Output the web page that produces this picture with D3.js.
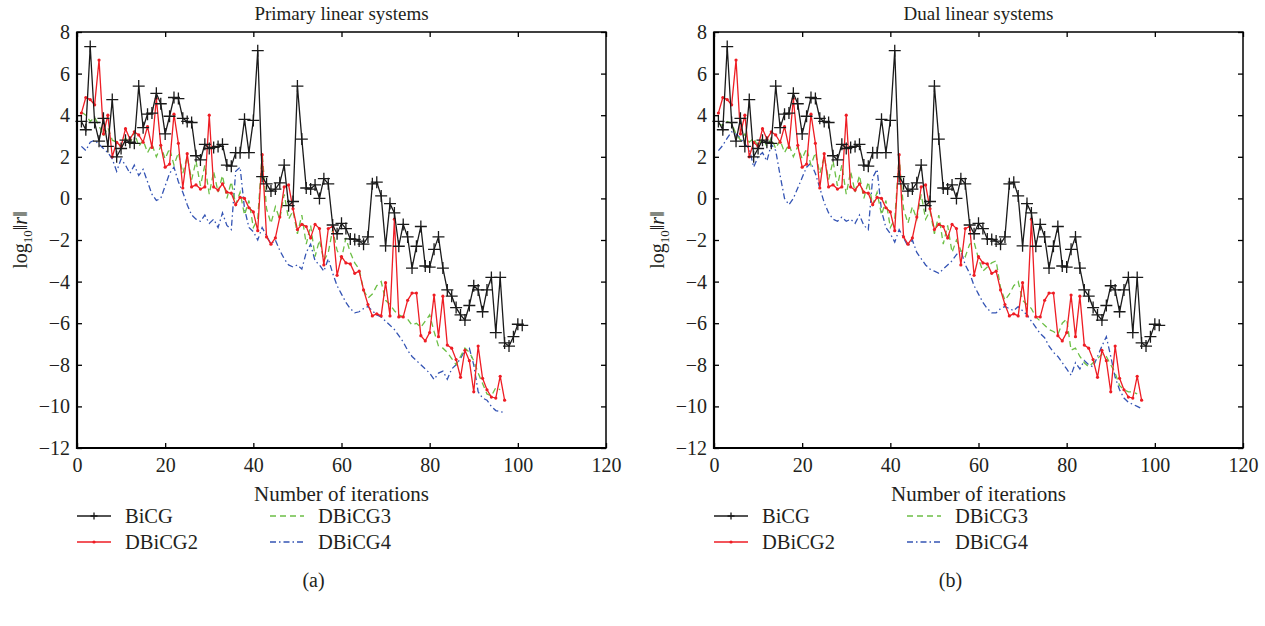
<!DOCTYPE html>
<html>
<head>
<meta charset="utf-8">
<script src="https://cdn.jsdelivr.net/npm/d3@7"></script>
<style>
  body { margin: 0; background: #fff; }
  svg text { font-family: "Liberation Serif", "Times New Roman", serif; fill: #231f20; }
</style>
</head>
<body>
<svg id="chart" width="1265" height="626"></svg>
<script>
// log10 ||r|| per iteration (first value = iteration 1)
var bicg = [3.7, 3.3, 7.3, 3.65, 2.75, 3.85, 2.5, 4.75, 2.0, 2.4,
  2.8, 2.7, 2.65, 5.4, 3.4, 4.05, 4.1, 5.05, 4.55, 3.1,
  3.95, 4.85, 4.8, 3.85, 3.7, 3.65, 2.05, 1.85, 2.6, 2.4,
  2.45, 2.5, 2.6, 1.6, 1.55, 2.2, 2.2, 3.8, 2.2, 3.75,
  7.1, 1.05, 0.7, 0.35, 0.45, 0.75, 1.6, -0.35, -0.15, 5.4,
  2.85, 0.5, 0.45, 0.65, 0.0, 0.95, 0.7, -1.28, -1.7, -1.2,
  -1.45, -1.95, -1.97, -2.05, -2.2, -1.85, 0.7, 0.78, 0.12, -2.28,
  -0.25, -0.7, -2.3, -1.25, -1.85, -3.35, -2.3, -1.35, -3.25, -3.3,
  -2.45, -1.85, -3.35, -4.4, -4.7, -5.25, -5.6, -5.85, -5.15, -4.2,
  -4.4, -5.45, -4.4, -3.8, -6.45, -3.8, -6.95, -7.1, -6.65, -6.05,
  -6.1];

var dbicg2 = [4.1, 4.85, 4.75, 4.5, 6.65, 3.1, 4.0, 2.0, 2.7, 2.5,
  3.35, 2.85, 3.2, 3.05, 2.7, 3.45, 2.45, 4.8, 2.55, 1.5,
  1.65, 4.05, 2.65, 0.5, 2.15, 0.55, 0.65, 0.45, 0.55, 4.0,
  0.55, 0.4, 0.7, 0.3, 0.25, -0.3, 0.05, 0.0, -0.45, -0.65,
  -1.55, 2.1, -1.85, -2.2, -1.9, -0.9, 0.55, 0.65, -0.5, -1.5,
  -1.25, -1.35, -1.9, -1.25, -1.45, -3.2, -1.45, -1.35, -3.7, -2.8,
  -3.1, -3.15, -3.6, -3.5, -4.4, -5.1, -5.65, -5.55, -5.65, -4.05,
  -5.65, -1.0, -5.7, -5.7, -4.9, -4.55, -4.55, -6.6, -6.85, -6.45,
  -4.65, -6.65, -4.7, -7.05, -7.2, -7.75, -8.6, -7.3, -7.8, -9.3,
  -7.1, -8.65, -9.2, -9.55, -9.6, -8.55, -9.7];

var dbicg3Primary = [4.15, 4.0, 3.7, 3.9, 3.5, 3.0, 3.4, 2.8, 2.7, 2.5,
  2.9, 2.6, 3.2, 2.5, 2.8, 2.2, 2.6, 2.0, 2.5, 1.9,
  2.4, 1.6, 2.2, 1.2, 2.0, 0.9, 1.8, 0.6, 1.6, 0.2,
  1.3, 0.3, 1.1, 0.0, 0.8, -0.3, 0.3, -0.8, -0.1, -1.4,
  -1.0, 2.2, -0.5, -1.2, -0.4, -1.0, 0.2, -1.0, -0.6, -1.7,
  -0.8, -2.2, -1.3, -2.8, -2.0, -3.0, -2.6, -1.5, -2.5, -2.9,
  -1.9, -2.6, -3.1, -3.4, -4.4, -4.8, -4.6, -4.2, -4.0, -4.9,
  -5.1, -5.4, -5.6, -5.7, -5.8, -6.1, -6.0, -6.2, -5.9, -5.6,
  -6.4, -7.1, -7.2, -7.4, -7.7, -8.0, -7.6, -7.2, -7.4, -7.8,
  -8.4, -8.9, -9.4, -9.5, -9.1, -9.2];

var dbicg4Primary = [2.5, 2.3, 2.7, 2.8, 2.6, 2.4, 2.2, 1.9, 1.3, 1.9,
  1.6, 1.2, 1.6, 1.1, 1.4, 0.8, 0.2, -0.1, 0.0, 0.6,
  1.2, 1.5, 0.8, 0.3, -0.3, -0.8, -1.0, -1.1, -0.8, -1.2,
  -1.0, -1.4, -0.7, -1.3, -1.5, 1.3, 1.5, -0.5, -1.4, -1.6,
  -2.0, -1.4, -1.8, -2.2, -2.0, -2.5, -2.9, -3.2, -3.3, -3.2,
  -3.4, -2.6, -2.2, -3.0, -3.2, -3.5, -2.9, -3.6, -4.2, -4.6,
  -5.0, -5.3, -5.5, -5.45, -5.3, -5.2, -5.4, -5.6, -5.7, -5.9,
  -6.1, -6.3, -6.6, -6.9, -7.3, -7.6, -7.8, -8.0, -8.2, -8.4,
  -8.7, -8.4, -8.3, -8.7, -8.2, -8.0, -7.7, -7.3, -7.2, -8.0,
  -9.3, -9.6, -9.7, -10.0, -10.2, -10.25, -10.3];

var dbicg3Dual = [3.6, 3.5, 3.7, 3.6, 3.1, 2.8, 3.1, 2.7, 2.9, 2.5,
  2.9, 2.5, 2.9, 2.4, 2.8, 2.2, 2.6, 2.0, 2.5, 1.9,
  2.4, 1.6, 2.2, 1.2, 2.0, 0.9, 1.8, 0.6, 1.6, 0.2,
  1.3, 0.3, 1.1, 0.0, 0.8, -0.3, 0.3, -0.8, -0.1, -1.4,
  -1.0, 2.0, -0.5, -1.2, -0.4, -1.0, 0.2, -1.0, -0.6, -1.7,
  -0.8, -2.2, -1.3, -2.6, -2.0, -2.5, -2.8, -2.2, -2.1, -2.9,
  -3.5, -3.3, -3.1, -3.0, -4.3, -4.9, -4.6, -4.2, -4.0, -4.9,
  -5.1, -5.3, -5.7, -5.9, -6.1, -6.3, -6.4, -6.55, -6.0, -5.8,
  -7.3, -7.2, -7.6, -7.9, -8.1, -7.9, -7.7, -7.5, -7.6, -8.0,
  -8.4, -9.0, -9.2, -9.3, -9.3, -9.4];

var dbicg4Dual = [2.3, 2.55, 2.9, 3.2, 3.1, 2.9, 2.6, 2.4, 1.5, 2.0,
  2.2, 1.8, 2.6, 2.3, 1.1, 0.0, -0.3, 0.0, 0.5, 1.0,
  1.5, 1.7, 1.2, 0.5, -0.2, -0.7, -1.0, -1.1, -0.9, -1.1,
  -1.0, -1.2, -0.8, -1.3, -1.5, 1.0, 1.4, -0.6, -1.4, -1.7,
  -2.1, -1.5, -1.9, -2.3, -2.0, -2.6, -2.9, -3.2, -3.4, -3.5,
  -3.6, -3.4, -3.2, -3.0, -2.7, -2.5, -3.2, -3.6, -4.2, -4.6,
  -5.0, -5.3, -5.5, -5.5, -5.3, -5.2, -5.3, -5.4, -5.2, -5.4,
  -5.6, -5.9, -6.2, -6.5, -6.7, -7.1, -7.4, -7.6, -7.9, -8.2,
  -8.5, -7.9, -8.2, -7.8, -8.0, -8.1, -7.6, -7.1, -6.65, -7.6,
  -8.6, -9.2, -9.6, -9.8, -9.9, -10.0, -10.1];

var xTicks = [0, 20, 40, 60, 80, 100, 120];
var yTicks = [8, 6, 4, 2, 0, -2, -4, -6, -8, -10, -12];
var panelTitles = ["Primary linear systems", "Dual linear systems"];
var panelTags = ["(a)", "(b)"];
var seriesNames = ["BiCG", "DBiCG2", "DBiCG3", "DBiCG4"];

var plotTop = 32, plotBottom = 448;
var panelLefts = [77, 714], plotWidth = 529;

var styles = {
  "BiCG":   { color: "#1a1a1a", dash: null, marker: "plus" },
  "DBiCG2": { color: "#ee1d24", dash: null, marker: "dot" },
  "DBiCG3": { color: "#6cbf45", dash: "6,4", marker: null },
  "DBiCG4": { color: "#3454b4", dash: "6,3,1.5,3", marker: null }
};

var svg = d3.select("#chart");

function drawPanel(p) {
  var left = panelLefts[p];
  var x = d3.scaleLinear().domain([0, 120]).range([left, left + plotWidth]);
  var y = d3.scaleLinear().domain([-12, 8]).range([plotBottom, plotTop]);
  var g = svg.append("g");

  var seriesData = [
    { name: "BiCG", values: bicg },
    { name: "DBiCG2", values: dbicg2 },
    { name: "DBiCG3", values: p == 0 ? dbicg3Primary : dbicg3Dual },
    { name: "DBiCG4", values: p == 0 ? dbicg4Primary : dbicg4Dual }
  ];

  var line = d3.line()
    .x(function(d, i) { return x(i + 1); })
    .y(function(d) { return y(d); });

  // draw in reverse so BiCG ends up on top
  seriesData.slice().reverse().forEach(function(s) {
    var st = styles[s.name];
    g.append("path")
      .datum(s.values)
      .attr("d", line)
      .attr("fill", "none")
      .attr("stroke", st.color)
      .attr("stroke-width", 1.3)
      .attr("stroke-dasharray", st.dash);

    if (st.marker == "plus") {
      g.selectAll(null).data(s.values).enter().append("path")
        .attr("d", "M-6,0H6M0,-6V6")
        .attr("transform", function(d, i) { return "translate(" + x(i + 1) + "," + y(d) + ")"; })
        .attr("stroke", st.color).attr("stroke-width", 1.3);
    } else if (st.marker == "dot") {
      g.selectAll(null).data(s.values).enter().append("circle")
        .attr("cx", function(d, i) { return x(i + 1); })
        .attr("cy", function(d) { return y(d); })
        .attr("r", 1.6)
        .attr("fill", st.color);
    }
  });

  // frame
  g.append("rect")
    .attr("x", left).attr("y", plotTop)
    .attr("width", plotWidth).attr("height", plotBottom - plotTop)
    .attr("fill", "none").attr("stroke", "#000").attr("stroke-width", 1.5);
  g.append("path")
    .attr("d", "M" + left + "," + plotTop + "V" + plotBottom + "H" + (left + plotWidth))
    .attr("fill", "none").attr("stroke", "#000").attr("stroke-width", 2.2);

  // axes with inward ticks
  var fmt = function(d) { return d < 0 ? "\u2212" + Math.abs(d) : d; };
  g.append("g").attr("transform", "translate(0," + plotBottom + ")")
    .call(d3.axisBottom(x).tickValues(xTicks).tickSize(-5).tickPadding(10));
  g.append("g").attr("transform", "translate(" + left + ",0)")
    .call(d3.axisLeft(y).tickValues(yTicks).tickSize(-5).tickPadding(7).tickFormat(fmt));
  g.append("g").attr("transform", "translate(0," + plotTop + ")")
    .call(d3.axisTop(x).tickValues(xTicks).tickSize(-5).tickFormat(""));
  g.append("g").attr("transform", "translate(" + (left + plotWidth) + ",0)")
    .call(d3.axisRight(y).tickValues(yTicks).tickSize(-5).tickFormat(""));

  g.selectAll(".domain").remove();
  g.selectAll(".tick line").attr("stroke", "#000").attr("stroke-width", 1.3);
  g.selectAll(".tick text").attr("font-family", "Liberation Serif, serif")
    .attr("font-size", 20).attr("fill", "#231f20");

  // title + axis labels
  var cx = left + plotWidth / 2;
  g.append("text").attr("x", cx).attr("y", 20)
    .attr("text-anchor", "middle").attr("font-size", 19)
    .text(panelTitles[p]);
  g.append("text").attr("x", cx).attr("y", 501)
    .attr("text-anchor", "middle").attr("font-size", 21)
    .text("Number of iterations");

  var yl = g.append("text")
    .attr("transform", "translate(" + (left - 50) + "," + ((plotTop + plotBottom) / 2) + ") rotate(-90)")
    .attr("text-anchor", "middle").attr("font-size", 20);
  yl.append("tspan").text("log");
  yl.append("tspan").attr("font-size", 13).attr("dy", 5).text("10");
  yl.append("tspan").attr("dy", -5).text("\u2016");
  yl.append("tspan").attr("font-style", "italic").text("r");
  yl.append("tspan").text("\u2016");

  // legend
  var legendCols = [left, left + 193];
  var legendRows = [516, 542];
  seriesNames.forEach(function(name, k) {
    var st = styles[name];
    var lx = legendCols[Math.floor(k / 2)];
    var ly = legendRows[k % 2];
    g.append("line")
      .attr("x1", lx).attr("x2", lx + 34).attr("y1", ly).attr("y2", ly)
      .attr("stroke", st.color).attr("stroke-width", 1.3)
      .attr("stroke-dasharray", st.dash);
    if (st.marker == "plus") {
      g.append("path").attr("d", "M-3.5,0H3.5M0,-3.5V3.5")
        .attr("transform", "translate(" + (lx + 17) + "," + ly + ")")
        .attr("stroke", st.color).attr("stroke-width", 1.3);
    } else if (st.marker == "dot") {
      g.append("circle").attr("cx", lx + 17).attr("cy", ly).attr("r", 1.6).attr("fill", st.color);
    }
    g.append("text").attr("x", lx + 48).attr("y", ly + 6.5)
      .attr("font-size", 20.5).text(name);
  });

  g.append("text").attr("x", cx - 28).attr("y", 587)
    .attr("text-anchor", "middle").attr("font-size", 20)
    .text(panelTags[p]);
}

drawPanel(0);
drawPanel(1);
</script>
</body>
</html>
